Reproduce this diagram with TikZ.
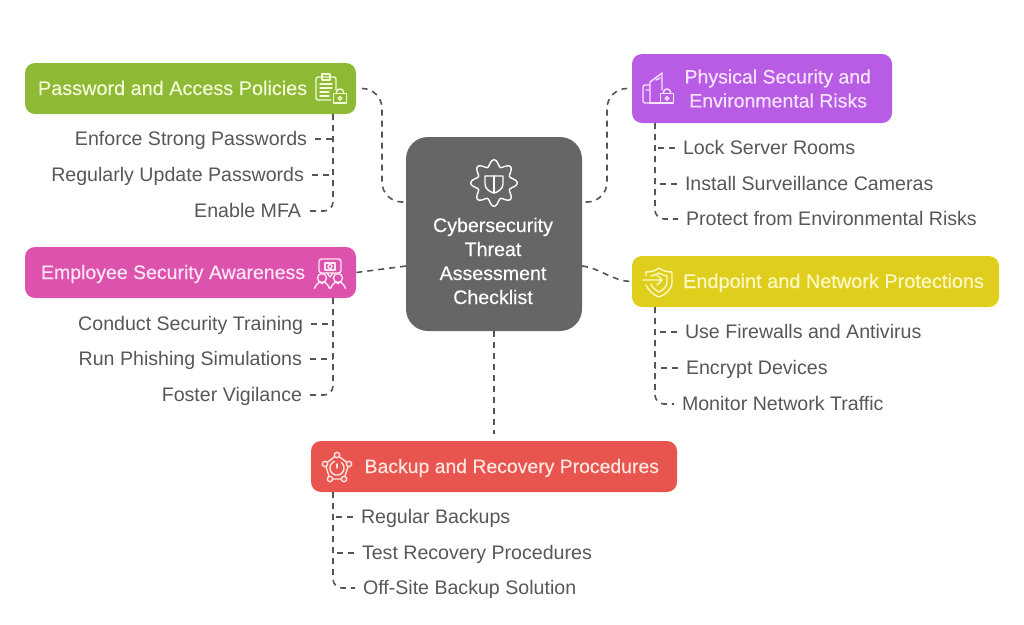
\documentclass[tikz,border=0pt]{standalone}
\usepackage{fontspec}
\setmainfont{Liberation Sans}
\newfontfamily\boxfont[FakeBold=0.25]{Liberation Sans}
\usepackage{tikz}
\usetikzlibrary{calc,positioning}

\definecolor{hubgrey}{HTML}{666666}
\definecolor{textgrey}{HTML}{575757}
\definecolor{linegrey}{HTML}{555555}
\definecolor{boxgreen}{HTML}{8DB935}
\definecolor{boxpink}{HTML}{DD52AC}
\definecolor{boxpurple}{HTML}{B85CE6}
\definecolor{boxyellow}{HTML}{E0CE1C}
\definecolor{boxred}{HTML}{E8554F}
\definecolor{tintgreen}{HTML}{F3FBD9}
\definecolor{tintpink}{HTML}{FDE6F6}
\definecolor{tintpurple}{HTML}{F8E4FF}
\definecolor{tintyellow}{HTML}{FFF9C8}
\definecolor{tintred}{HTML}{FFE6E0}

\tikzset{
  lockicon/.pic={
    \draw (-6.5,-4.5) rectangle (6.5,5);
    \draw (-3.5,-4.5) -- (-3.5,-6) .. controls (-3.5,-10) and (3.5,-10) .. (3.5,-6) -- (3.5,-4.5);
    \draw (0,0.3) circle (1.8pt);
  },
  personicon/.pic={
    \draw (0,0) circle (4.5pt);
    \draw (-2.5,4) .. controls (-5,6) and (-7,8) .. (-7.5,10.5);
    \draw (2.5,4) .. controls (5,6) and (7,8) .. (7.5,10.5);
    \draw (-2.5,4) .. controls (-1,6) and (1,6) .. (2.5,4);
  }
}

\begin{document}
\begin{tikzpicture}[x=1pt,y=-1pt,thick,node distance=36pt]
    \tikzstyle{hub}=[rectangle, rounded corners=22pt, fill=hubgrey, minimum width=176pt, minimum height=194pt, inner sep=0pt]
    \tikzstyle{hubtitle}=[align=center, text=white, inner sep=0pt, font=\boxfont\fontsize{19.6}{24}\selectfont]
    \tikzstyle{branch}=[rectangle, rounded corners=10pt, minimum height=51pt, inner ysep=0pt, text height=15pt, text depth=2pt, font=\boxfont\fontsize{19.5}{24}\selectfont]
    \tikzstyle{leafl}=[anchor=east, text=textgrey, inner sep=0pt, outer sep=8pt, text height=14pt, text depth=1pt, font=\fontsize{19.6}{23}\selectfont]
    \tikzstyle{leafr}=[anchor=west, text=textgrey, inner sep=0pt, outer sep=8pt, text height=14pt, text depth=1pt, font=\fontsize{19.6}{23}\selectfont]
    \tikzstyle{link}=[draw=linegrey, line width=1.6pt, dash pattern=on 6pt off 5pt]
    \tikzstyle{iconline}=[line width=1.4pt, line join=round, line cap=round, fill=none]

    \useasboundingbox (0,0) rectangle (1024,624);

    % centre
    \node[hub] (hub) at (494,234) {};
    \node[hubtitle] (hubtitle) at (493,261) {Cybersecurity\\Threat\\Assessment\\Checklist};

    % boxes
    \node[branch, fill=boxgreen, text=tintgreen, inner xsep=13pt, text width=305pt, align=flush left, font=\boxfont\fontsize{19.85}{24}\selectfont] (green) at (190.5,88.5) {Password and Access Policies};
    \node[branch, fill=boxpink, text=tintpink, inner xsep=16pt, text width=299pt, align=flush left] (pink) at (190.5,272.5) {Employee Security Awareness};
    \node[branch, fill=boxpurple, text=tintpurple, inner xsep=21pt, text width=218pt, align=flush right, minimum height=69pt, text height=, text depth=] (purple) at (762,88.5) {Physical Security and\\Environmental Risks\hspace*{4pt}};
    \node[branch, fill=boxyellow, text=tintyellow, inner xsep=15pt, text width=337pt, align=flush right, font=\boxfont\fontsize{19.9}{24}\selectfont] (yellow) at (815.5,281.5) {Endpoint and Network Protections};
    \node[branch, fill=boxred, text=tintred, inner xsep=18pt, text width=330pt, align=flush right, font=\boxfont\fontsize{19.4}{24}\selectfont] (red) at (494,466.5) {Backup and Recovery Procedures};

    % leaves
    \node[leafl] (enforce) at (315,139) {Enforce Strong Passwords};
    \node[leafl] (update) [below=36pt of enforce.east, anchor=east, xshift=-3pt] {Regularly Update Passwords};
    \node[leafl] (mfa) [below=36pt of update.east, anchor=east, xshift=-3pt] {Enable MFA};

    \node[leafl] (training) at (311,324) {Conduct Security Training};
    \node[leafl] (phishing) [below=35pt of training.east, anchor=east, xshift=-1pt] {Run Phishing Simulations};
    \node[leafl] (vigilance) [below=36pt of phishing.east, anchor=east] {Foster Vigilance};

    \node[leafr] (lock) at (675,148) {Lock Server Rooms};
    \node[leafr] (cameras) [below=36pt of lock.west, anchor=west, xshift=2pt] {Install Surveillance Cameras};
    \node[leafr] (envrisks) [below=35pt of cameras.west, anchor=west, xshift=1pt] {Protect from Environmental Risks};

    \node[leafr] (firewalls) at (677,332) {Use Firewalls and Antivirus};
    \node[leafr] (encrypt) [below=36pt of firewalls.west, anchor=west, xshift=1pt] {Encrypt Devices};
    \node[leafr] (traffic) [below=36pt of encrypt.west, anchor=west, xshift=-4pt] {Monitor Network Traffic};

    \node[leafr] (regular) at (353,517) {Regular Backups};
    \node[leafr] (test) [below=36pt of regular.west, anchor=west, xshift=1pt] {Test Recovery Procedures};
    \node[leafr] (offsite) [below=35pt of test.west, anchor=west, xshift=1pt] {Off-Site Backup Solution};

    % helper points
    \coordinate (hubgreen) at (406,202);
    \coordinate (hubpurple) at (582,202);
    \coordinate (hubpink) at (406,266);
    \coordinate (hubyellow) at (582,266);
    \coordinate (bendgreen) at (382,145);
    \coordinate (bendpurple) at (607,145);
    \coordinate (topgreen) at (333,114);
    \coordinate (toppink) at (333,298);
    \coordinate (toppurple) at (655,123);
    \coordinate (topyellow) at (655,307);
    \coordinate (topred) at (333,492);

    % hub links
    \draw[link, rounded corners=20pt, shorten <=6pt] (green.east) -| (bendgreen) |- (hubgreen);
    \draw[link, rounded corners=20pt, shorten <=5pt] (purple.west) -| (bendpurple) |- (hubpurple);
    \draw[link] (pink.east) -- (hubpink);
    \draw[link] (hubyellow) .. controls (600,268) and (612,281) .. (yellow.west);
    \draw[link, shorten >=7pt] (hub.south) -- (red.north);

    % leaf links
    \draw[link, rounded corners=9pt] (topgreen) |- (mfa.east);
    \draw[link] (enforce.east) -- (enforce.east -| topgreen);
    \draw[link] (update.east) -- (update.east -| topgreen);
    \draw[link, rounded corners=9pt] (toppink) |- (vigilance.east);
    \draw[link] (training.east) -- (training.east -| toppink);
    \draw[link] (phishing.east) -- (phishing.east -| toppink);
    \draw[link, rounded corners=9pt] (toppurple) |- (envrisks.west);
    \draw[link] (lock.west) -- (lock.west -| toppurple);
    \draw[link] (cameras.west) -- (cameras.west -| toppurple);
    \draw[link, rounded corners=9pt] (topyellow) |- (traffic.west);
    \draw[link] (firewalls.west) -- (firewalls.west -| topyellow);
    \draw[link] (encrypt.west) -- (encrypt.west -| topyellow);
    \draw[link, rounded corners=9pt] (topred) |- (offsite.west);
    \draw[link] (regular.west) -- (regular.west -| topred);
    \draw[link] (test.west) -- (test.west -| topred);

    % gear icon
    \draw[iconline, white] plot[domain=0:360, samples=121, smooth] ({494+(20+3.2*cos(8*\x))*cos(\x)},{183+(20+3.2*cos(8*\x))*sin(\x)}) -- cycle;
    \draw[iconline, white] (485,176) -- (503,176) -- (503,184) .. controls (503,189) and (498,192) .. (494,193) .. controls (490,192) and (485,189) .. (485,184) -- cycle;
    \draw[iconline, white] (494,176) -- (494,193);

    % clipboard icon
    \draw[iconline, tintgreen, rounded corners=2pt] (331,100) -- (316,100) -- (316,77) -- (336,77) -- (336,90);
    \draw[iconline, tintgreen] (322,74) rectangle (330,80);
    \draw[iconline, tintgreen] (320,84) -- (332,84) (320,88) -- (332,88) (320,92) -- (329,92) (320,96) -- (329,96);
    \pic[iconline, tintgreen] at (340,98) {lockicon};

    % buildings icon
    \draw[iconline, tintpurple, rounded corners=1.5pt] (650,103) -- (643,103) -- (643,85) -- (650,85);
    \draw[iconline, tintpurple] (650,103) -- (650,82) -- (662,73) -- (662,90);
    \draw[iconline, tintpurple] (650,103) -- (660,103);
    \draw[iconline, tintpurple] (646,90) -- (649,90) (656,80) -- (660,78);
    \pic[iconline, tintpurple] at (667,98) {lockicon};

    % training icon
    \draw[iconline, tintpink, rounded corners=2.5pt] (319,259) rectangle (341,273);
    \draw[iconline, tintpink] (327,273) -- (330,277) -- (333,273);
    \draw[iconline, tintpink] (325,263) rectangle (335,270);
    \draw[iconline, tintpink] (330,266.5) circle (2pt);
    \pic[iconline, tintpink] at (322,278) {personicon};
    \pic[iconline, tintpink] at (338,278) {personicon};

    % shield icon
    \draw[iconline, tintyellow] (646,276) -- (646,272) .. controls (653,272) and (656,270) .. (659,268) .. controls (662,270) and (665,272) .. (672,272) -- (672,282) .. controls (672,290) and (665,295) .. (659,297) .. controls (653,295) and (648,290) .. (646,285);
    \draw[iconline, tintyellow] (651,276) .. controls (655,275) and (657,274) .. (659,273) .. controls (661,274) and (663,275) .. (667,276) -- (667,282) .. controls (667,287) and (663,290) .. (659,292) .. controls (655,290) and (652,287) .. (651,284);
    \draw[iconline, tintyellow] (643,280) -- (662,280) (657,275) -- (662,280) -- (657,285);

    % backup icon
    \draw[iconline, tintred] (337,455) -- (349,464) -- (344,479) -- (330,479) -- (325,464) -- cycle;
    \foreach \a/\b in {337/455, 349/464, 344/479, 330/479, 325/464}
      \draw[iconline, tintred, fill=boxred] (\a,\b) circle (2.7pt);
    \draw[iconline, tintred] plot[domain=-50:250, samples=30, smooth] ({337+7*cos(\x)},{468+7*sin(\x)});
    \draw[iconline, tintred] (337,468) -- (337,464);
  \end{tikzpicture}
\end{document}
